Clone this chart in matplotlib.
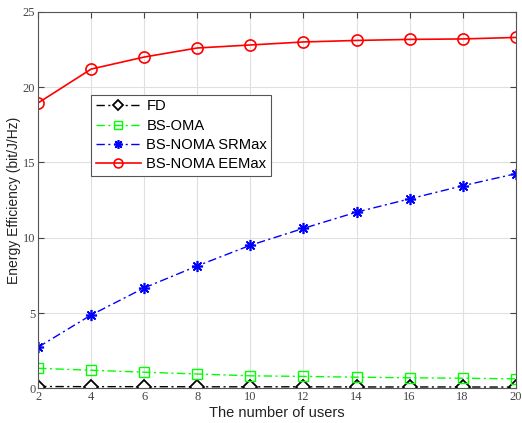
import numpy as np
import matplotlib
matplotlib.use("Agg")
import matplotlib.pyplot as plt

# -----------------------------------------------------------------------------
# Data
# -----------------------------------------------------------------------------
users = [2, 4, 6, 8, 10, 12, 14, 16, 18, 20]
fd = [0.12, 0.11, 0.11, 0.10, 0.10, 0.10, 0.09, 0.09, 0.09, 0.08]
bs_oma = [1.33, 1.20, 1.07, 0.95, 0.83, 0.79, 0.74, 0.70, 0.67, 0.63]
bs_noma_sr = [2.73, 4.87, 6.67, 8.13, 9.50, 10.62, 11.70, 12.58, 13.45, 14.25]
bs_noma_ee = [18.95, 21.2, 22.0, 22.6, 22.8, 23.0, 23.1, 23.17, 23.2, 23.3]

# -----------------------------------------------------------------------------
# Plot
# -----------------------------------------------------------------------------
fig = plt.figure(figsize=(5.22, 4.23), dpi=100)
ax = fig.add_axes([0.073, 0.082, 0.915, 0.89])

dashdot = (0, (6, 2.5, 1.5, 2.5))
ax.plot(users, fd, linestyle=dashdot, color='black', marker='D', markersize=7,
        markerfacecolor='white', markeredgewidth=1.3, linewidth=1.0, label='FD')
ax.plot(users, bs_oma, linestyle=dashdot, color='#00ff00', marker='s', markersize=7,
        markerfacecolor='none', markeredgewidth=1.0, linewidth=1.0, label='BS-OMA')
ax.plot(users, bs_noma_sr, linestyle=dashdot, color='blue', marker=(8, 2, 0),
        markersize=8, markeredgewidth=1.2, linewidth=1.0, label='BS-NOMA SRMax')
ax.plot(users, bs_noma_ee, '-', color='red', marker='o', markersize=8,
        markerfacecolor='none', markeredgewidth=1.2, linewidth=1.2, label='BS-NOMA EEMax')

ax.set_xlim(2, 20)
ax.set_ylim(0, 25)
ax.set_xticks(users)
ax.set_yticks([0, 5, 10, 15, 20, 25])

for lab in ax.get_xticklabels() + ax.get_yticklabels():
    lab.set_fontfamily('Liberation Serif')
    lab.set_fontsize(9)
    lab.set_color('#333333')

ax.tick_params(direction='in', top=True, right=True, length=4, width=0.8,
               colors='#444444', pad=2)
for s in ax.spines.values():
    s.set_color('#555555')
    s.set_linewidth(0.8)

ax.grid(True, color='#e0e0e0', linewidth=0.8)
ax.set_axisbelow(True)

ax.set_xlabel('The number of users', family='Liberation Sans', fontsize=10.5,
              color='#222222', labelpad=2)
ax.set_ylabel('Energy Efficiency (bit/J/Hz)', family='Liberation Sans',
              fontsize=10, color='#222222', labelpad=1)

leg = ax.legend(loc='upper left', bbox_to_anchor=(0.111, 0.779),
                prop={'family': 'Liberation Sans', 'size': 10.6},
                fancybox=False, framealpha=1, edgecolor='#555555',
                borderpad=0.3, labelspacing=0.36, handlelength=3.1,
                handletextpad=0.35, borderaxespad=0, markerscale=0.8)
leg.get_frame().set_linewidth(0.8)

fig.savefig('out.png', dpi=100)
